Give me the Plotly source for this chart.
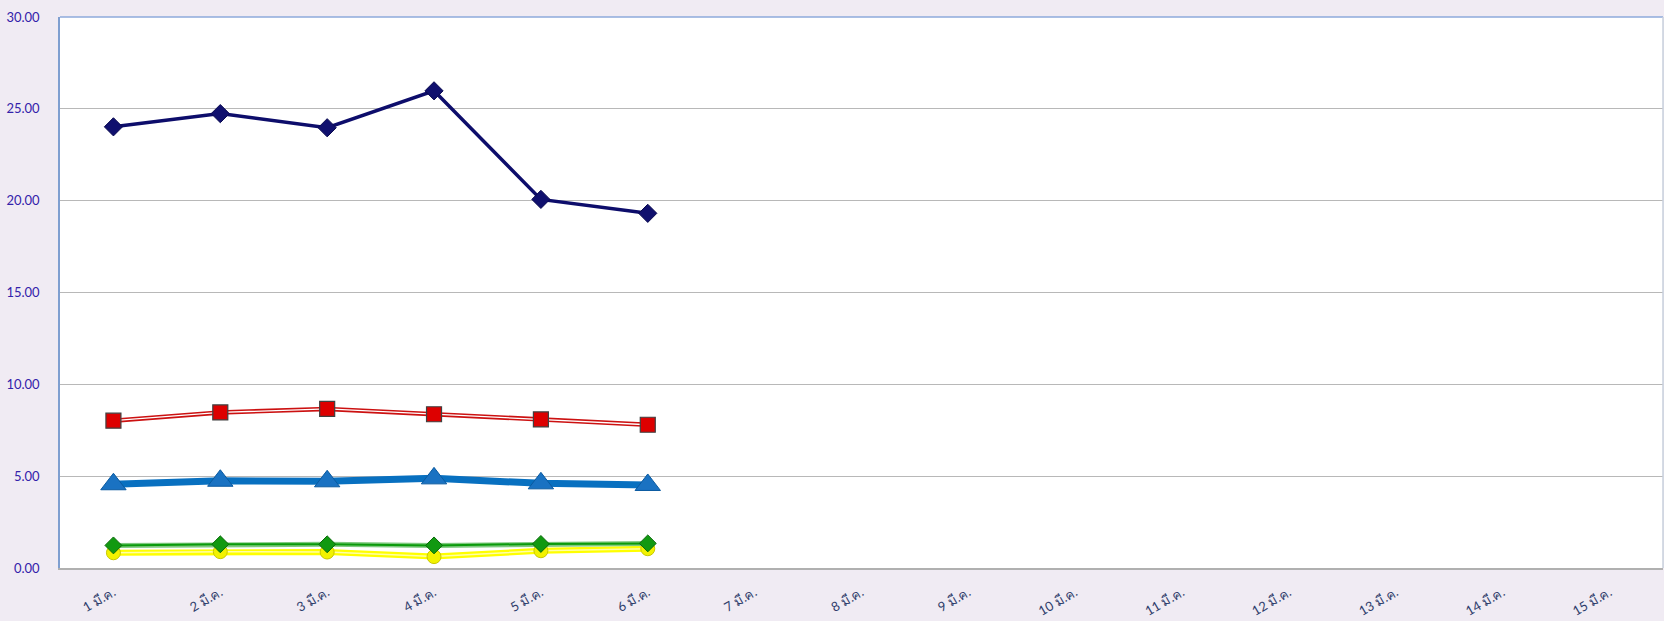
import plotly.graph_objects as go

categories = [f"{i} มี.ค." for i in range(1, 16)]
series_navy = [24.02, 24.74, 23.97, 25.98, 20.07, 19.31]
series_red = [8.02, 8.47, 8.66, 8.37, 8.09, 7.80]
series_blue = [4.56, 4.75, 4.72, 4.88, 4.61, 4.52]
series_green = [1.23, 1.29, 1.29, 1.23, 1.31, 1.34]
series_yellow = [0.83, 0.89, 0.87, 0.62, 0.94, 1.05]
y_ticks = [0, 5, 10, 15, 20, 25, 30]

x = categories[:6]
fig = go.Figure()

# yellow: double line (yellow outer, light inner)
fig.add_trace(go.Scatter(x=x, y=series_yellow, mode="lines", line=dict(color="#ffff00", width=6),
                         showlegend=False, hoverinfo="skip"))
fig.add_trace(go.Scatter(x=x, y=series_yellow, mode="lines+markers", line=dict(color="#ffffa8", width=1.5),
                         marker=dict(symbol="circle", size=14, color="#f2f200", line=dict(color="#c8c800", width=1)),
                         showlegend=False))
# green
fig.add_trace(go.Scatter(x=x, y=series_green, mode="lines", line=dict(color="#7fc97f", width=5),
                         showlegend=False, hoverinfo="skip"))
fig.add_trace(go.Scatter(x=x, y=series_green, mode="lines+markers", line=dict(color="#0a9a0a", width=2),
                         marker=dict(symbol="diamond", size=13, color="#119911", line=dict(color="#0a6a0a", width=1)),
                         showlegend=False))
# blue
fig.add_trace(go.Scatter(x=x, y=series_blue, mode="lines+markers", line=dict(color="#0870c0", width=7),
                         marker=dict(symbol="triangle-up", size=22, color="#1a72c2", line=dict(color="#0a5aa0", width=1)),
                         showlegend=False))
# red: double line
fig.add_trace(go.Scatter(x=x, y=series_red, mode="lines", line=dict(color="#cc1111", width=4.5),
                         showlegend=False, hoverinfo="skip"))
fig.add_trace(go.Scatter(x=x, y=series_red, mode="lines+markers", line=dict(color="#ffffff", width=1.3),
                         marker=dict(symbol="square", size=15, color="#dd0000", line=dict(color="#404040", width=1.2)),
                         showlegend=False))
# navy
fig.add_trace(go.Scatter(x=x, y=series_navy, mode="lines+markers", line=dict(color="#0d0d6b", width=3.5),
                         marker=dict(symbol="diamond", size=14, color="#10106e", line=dict(color="#0a0a50", width=1)),
                         showlegend=False))

fig.update_layout(
    width=1664, height=621,
    margin=dict(l=60, r=1, t=17, b=53),
    paper_bgcolor="#f0ebf3",
    plot_bgcolor="#ffffff",
    font=dict(family="Lato, Noto Sans, DejaVu Sans, sans-serif"),
    xaxis=dict(
        categoryorder="array", categoryarray=categories,
        tickmode="array", tickvals=categories, ticktext=categories,
        range=[-0.5, 14.5], tickangle=-30, automargin=False,
        tickfont=dict(size=13, color="#2f3d6b"),
        showgrid=False, showline=True, linecolor="#b0b0b0", linewidth=2,
        ticks="", zeroline=False, ticklabelstandoff=10,
    ),
    yaxis=dict(
        range=[0, 30], tickvals=y_ticks, ticktext=[f"{v:.2f}" for v in y_ticks],
        tickfont=dict(size=13, color="#3322aa"), automargin=False,
        showgrid=True, gridcolor="#b8b8b8", gridwidth=1.2,
        showline=True, linecolor="#7f9fd0", linewidth=1.5,
        ticks="", zeroline=False, ticklabelstandoff=16,
    ),
)
fig.add_shape(type="line", xref="paper", yref="paper", x0=0, x1=1, y0=1, y1=1,
              line=dict(color="#8eaadb", width=1.5))
fig.add_shape(type="line", xref="paper", yref="paper", x0=1, x1=1, y0=0, y1=1,
              line=dict(color="#c8d0dc", width=1.5))

fig.write_html("out.html", config={"displayModeBar": False},
               post_script="document.body.style.margin='0';document.body.style.overflow='hidden';")
